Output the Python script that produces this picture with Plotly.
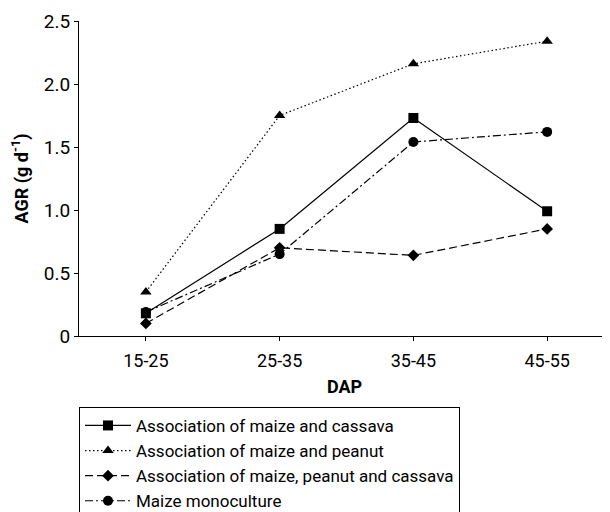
import plotly.graph_objects as go

categories = ["15-25", "25-35", "35-45", "45-55"]
maize_cassava = [0.18, 0.85, 1.73, 0.99]
maize_peanut = [0.35, 1.75, 2.16, 2.34]
maize_peanut_cassava = [0.10, 0.70, 0.64, 0.85]
maize_mono = [0.19, 0.65, 1.54, 1.62]
names = ["Association of maize and cassava", "Association of maize and peanut",
         "Association of maize, peanut and cassava", "Maize monoculture"]
y_ticks = [0, 0.5, 1.0, 1.5, 2.0, 2.5]
y_ticktext = ["0", "0.5", "1.0", "1.5", "2.0", "2.5"]

FONT = "Roboto, Liberation Sans, sans-serif"

series = [
    (maize_cassava, "solid", "square", 10),
    (maize_peanut, "1.5px,2.5px", "triangle-up", 10),
    (maize_peanut_cassava, "8px,4px", "diamond", 9),
    (maize_mono, "8px,3px,2px,3px", "circle", 10),
]

fig = go.Figure()
for (vals, dash, sym, sz), nm in zip(series, names):
    fig.add_trace(go.Scatter(
        x=categories, y=vals, name=nm, mode="lines+markers",
        line=dict(color="black", width=1.2, dash=dash),
        marker=dict(symbol=sym, size=sz, color="black"),
    ))

fig.update_layout(
    width=610, height=512,
    margin=dict(l=71, r=8, t=13, b=184, autoexpand=False),
    paper_bgcolor="white", plot_bgcolor="white",
    font=dict(family=FONT, size=18, color="black"),
    showlegend=True,
    legend=dict(x=0.0, y=-0.225, xanchor="left", yanchor="top",
                bordercolor="black", borderwidth=1, bgcolor="white",
                font=dict(size=17), tracegroupgap=0, itemwidth=46),
)
fig.update_xaxes(
    type="category", range=[-0.5, 3.47], showline=True, linecolor="black", linewidth=1,
    ticks="outside", ticklen=4, tickcolor="black", showgrid=False, zeroline=False,
    ticklabelstandoff=4, tickfont=dict(size=18),
    title=dict(text="<b>DAP</b>", font=dict(size=18), standoff=10),
)
fig.update_yaxes(
    range=[0, 2.5], showline=True, linecolor="black", linewidth=1,
    ticks="outside", ticklen=4, tickcolor="black", showgrid=False, zeroline=False,
    tickvals=y_ticks, ticktext=y_ticktext, tickfont=dict(size=19),
    title=dict(text="<b>AGR (g d<sup>-1</sup>)</b>", font=dict(size=18), standoff=12),
)

fig.write_html("out.html")
